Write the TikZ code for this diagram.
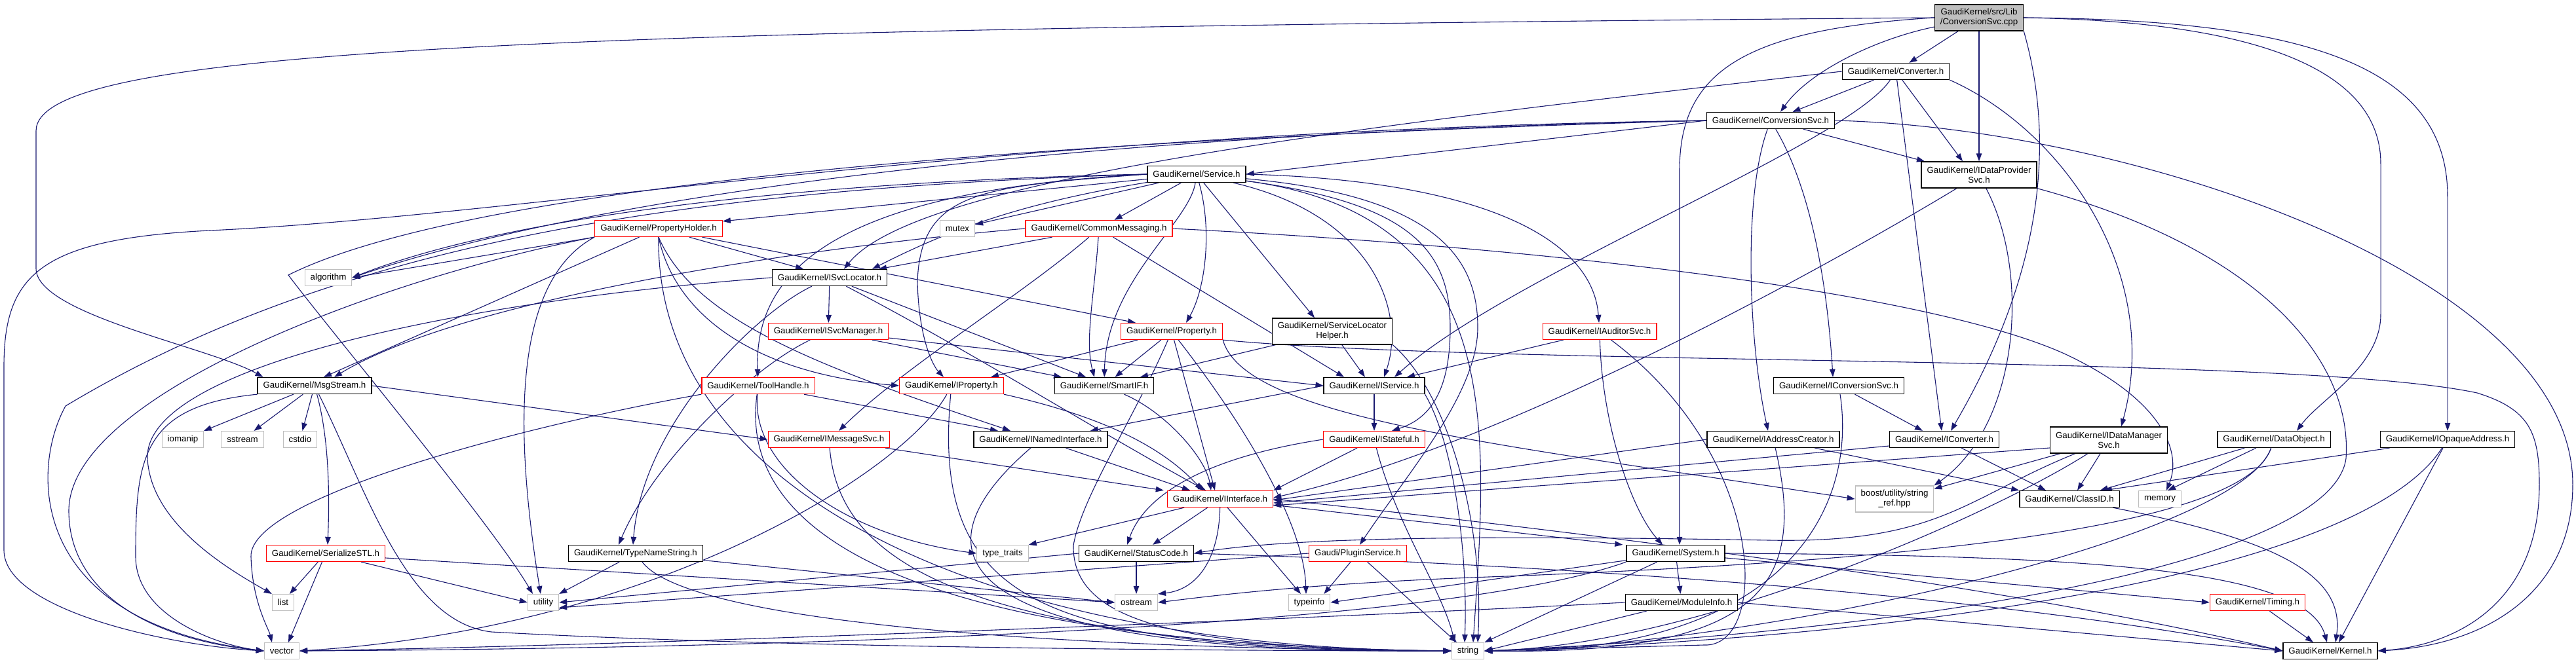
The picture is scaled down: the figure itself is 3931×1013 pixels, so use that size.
\documentclass[tikz,border=0pt]{standalone}
\usepackage{fontspec}
\setmainfont{Liberation Sans}
\usetikzlibrary{arrows.meta,backgrounds}
\definecolor{edgeblue}{HTML}{191970}
\definecolor{sysgray}{HTML}{BFBFBF}

\begin{document}
\begin{tikzpicture}[x=1pt,y=-1pt,
  hdr/.style={rectangle,draw=black,line width=1.3pt,fill=white,font=\fontsize{13.3}{15}\selectfont,inner xsep=8.5pt,inner ysep=0pt,minimum height=25pt,align=center},
  trunc/.style={hdr,draw=red},
  stdh/.style={hdr,draw=sysgray,line width=1.1pt},
  src/.style={hdr,fill=sysgray},
  tall/.style={minimum height=40pt},
  inc/.style={draw=edgeblue,line width=1.1pt,-{Triangle[length=12pt,width=8.5pt]}}]

\useasboundingbox (0,0) rectangle (3931,1013);

\node[src,tall] (cpp) at (3020,27) {GaudiKernel/src/Lib\\/ConversionSvc.cpp};
\node[hdr] (conv) at (2893,109) {GaudiKernel/Converter.h};
\node[hdr] (cnvsvc) at (2702,184) {GaudiKernel/ConversionSvc.h};
\node[hdr,tall] (idp) at (3020,267) {GaudiKernel/IDataProvider\\Svc.h};
\node[hdr] (svc) at (1826,266) {GaudiKernel/Service.h};
\node[trunc] (ph) at (1005,349) {GaudiKernel/PropertyHolder.h};
\node[stdh] (mutex) at (1461,349) {mutex};
\node[trunc] (cm) at (1677,349) {GaudiKernel/CommonMessaging.h};
\node[hdr] (isl) at (1266,424) {GaudiKernel/ISvcLocator.h};
\node[stdh] (algo) at (501,424) {algorithm};
\node[trunc] (ism) at (1264,506) {GaudiKernel/ISvcManager.h};
\node[trunc] (prop) at (1788,506) {GaudiKernel/Property.h};
\node[hdr,tall] (slh) at (2033,506) {GaudiKernel/ServiceLocator\\Helper.h};
\node[trunc] (ias) at (2441,506) {GaudiKernel/IAuditorSvc.h};
\node[hdr] (ms) at (480,589) {GaudiKernel/MsgStream.h};
\node[trunc] (th) at (1157,589) {GaudiKernel/ToolHandle.h};
\node[trunc] (iprop) at (1452,589) {GaudiKernel/IProperty.h};
\node[hdr] (sif) at (1685,589) {GaudiKernel/SmartIF.h};
\node[hdr] (isvc) at (2097,589) {GaudiKernel/IService.h};
\node[hdr] (icsvc) at (2806,589) {GaudiKernel/IConversionSvc.h};
\node[stdh] (iomanip) at (279,671) {iomanip};
\node[stdh] (sstream) at (370,671) {sstream};
\node[stdh] (cstdio) at (458,671) {cstdio};
\node[trunc] (ims) at (1265,671) {GaudiKernel/IMessageSvc.h};
\node[hdr] (ini) at (1588,671) {GaudiKernel/INamedInterface.h};
\node[trunc] (istat) at (2097,671) {GaudiKernel/IStateful.h};
\node[hdr] (iac) at (2706,671) {GaudiKernel/IAddressCreator.h};
\node[hdr] (iconv) at (2967,671) {GaudiKernel/IConverter.h};
\node[hdr,tall] (idm) at (3218,672) {GaudiKernel/IDataManager\\Svc.h};
\node[hdr] (dobj) at (3470,671) {GaudiKernel/DataObject.h};
\node[hdr] (iopa) at (3735,671) {GaudiKernel/IOpaqueAddress.h};
\node[trunc] (iif) at (1862,762) {GaudiKernel/IInterface.h};
\node[stdh,tall] (sref) at (2891,762) {boost/utility/string\\\_ref.hpp};
\node[hdr] (clid) at (3158,762) {GaudiKernel/ClassID.h};
\node[stdh] (memory) at (3296,762) {memory};
\node[trunc] (sstl) at (497,845) {GaudiKernel/SerializeSTL.h};
\node[hdr] (tns) at (970,845) {GaudiKernel/TypeNameString.h};
\node[stdh] (ttraits) at (1530,845) {type\_traits};
\node[hdr] (sc) at (1734,845) {GaudiKernel/StatusCode.h};
\node[trunc] (plug) at (2072,845) {Gaudi/PluginService.h};
\node[hdr] (sys) at (2557,845) {GaudiKernel/System.h};
\node[stdh] (list) at (432,920) {list};
\node[stdh] (utility) at (829,920) {utility};
\node[stdh] (ostream) at (1734,920) {ostream};
\node[stdh] (tinfo) at (1998,920) {typeinfo};
\node[hdr] (modinfo) at (2566,920) {GaudiKernel/ModuleInfo.h};
\node[trunc] (timing) at (3445,920) {GaudiKernel/Timing.h};
\node[stdh] (vector) at (430,994) {vector};
\node[stdh] (string) at (2240,994) {string};
\node[hdr] (kernel) at (3556,994) {GaudiKernel/Kernel.h};

\begin{scope}[on background layer]
% ConversionSvc.cpp
\draw[inc] (cpp.west) .. controls (800,45) and (55,75) .. (55,200) -- (55,410) .. controls (55,480) and (320,530) .. ([xshift=9pt]ms.north west);
\draw[inc] (cpp) -- (conv);
\draw[inc] (cpp) .. controls (2860,60) and (2760,110) .. ([xshift=15pt]cnvsvc.north);
\draw[inc] (cpp) -- (idp);
\draw[inc] (cpp.south east) .. controls (3140,230) and (3110,430) .. ([xshift=10pt]iconv.north);
\draw[inc] (cpp.west) .. controls (2660,45) and (2563,110) .. (2563,260) -- ([xshift=6pt]sys.north);
\draw[inc] (cpp.east) .. controls (3400,32) and (3633,90) .. (3633,250) -- (3633,480) .. controls (3633,560) and (3540,610) .. ([xshift=35pt]dobj.north);
\draw[inc] (cpp.east) .. controls (3520,30) and (3735,100) .. (3735,300) -- (iopa.north);
% Converter.h
\draw[inc] (conv) -- (cnvsvc);
\draw[inc] (conv) .. controls (2820,220) and (2300,420) .. ([xshift=31pt]isvc.north);
\draw[inc] (conv) -- ([xshift=-4pt]iconv.north);
\draw[inc] (conv) -- ([xshift=-25pt]idp.north);
\draw[inc] (conv.south east) .. controls (3150,200) and (3300,420) .. ([xshift=19pt]idm.north);
\draw[inc] (conv.west) .. controls (2100,190) and (1400,270) .. ([xshift=22pt]isl.north);
% ConversionSvc.h
\draw[inc] (cnvsvc.west) -- (svc.east);
\draw[inc] (cnvsvc) .. controls (2660,300) and (2668,520) .. ([xshift=-8pt]iac.north);
\draw[inc] (cnvsvc) .. controls (2770,300) and (2790,460) .. ([xshift=-9pt]icsvc.north);
\draw[inc] (cnvsvc) -- ([xshift=-83pt]idp.north);
\draw[inc] (cnvsvc.east) .. controls (3250,195) and (3926,420) .. (3926,740) .. controls (3926,900) and (3800,985) .. (kernel.east);
\draw[inc] (cnvsvc.west) .. controls (1600,205) and (900,300) .. (algo.east);
\draw[inc] (cnvsvc.west) .. controls (1500,215) and (700,290) .. (440,420) .. controls (500,500) and (750,800) .. ([xshift=-16pt]utility.north);
\draw[inc] (cnvsvc.west) .. controls (1500,200) and (800,330) .. (320,352) .. controls (60,365) and (6,420) .. (6,560) -- (6,840) .. controls (6,930) and (250,985) .. (vector.west);
% Service.h
\draw[inc] (svc) -- ([yshift=-2pt]ph.north east);
\draw[inc] (svc) -- (mutex);
\draw[inc] (svc) -- (cm);
\draw[inc] (svc) .. controls (1560,310) and (1450,350) .. ([xshift=65pt]isl.north);
\draw[inc] (svc.west) .. controls (1300,290) and (1150,400) .. (th);
\draw[inc] (svc.west) .. controls (1500,285) and (1405,290) .. (1400,430) .. controls (1402,520) and (1425,560) .. ([xshift=-12pt]iprop.north);
\draw[inc] (svc) .. controls (1815,340) and (1688,430) .. (sif);
\draw[inc] (svc) .. controls (1850,350) and (1840,440) .. ([xshift=22pt]prop.north);
\draw[inc] (svc) -- ([xshift=-27pt]slh.north);
\draw[inc] (svc) .. controls (2100,330) and (2145,480) .. ([xshift=15pt]isvc.north);
\draw[inc] (svc) .. controls (2150,310) and (2213,380) .. (2213,500) .. controls (2213,600) and (2180,640) .. ([xshift=27pt]istat.north);
\draw[inc] (svc.east) .. controls (2250,275) and (2430,360) .. (ias);
\draw[inc] (svc) .. controls (2200,300) and (2255,400) .. (2255,500) .. controls (2255,600) and (2150,720) .. ([xshift=3pt]plug.north);
\draw[inc] (svc) .. controls (2300,330) and (2270,650) .. ([xshift=8pt]string.north);
\draw[inc] (svc.west) .. controls (1300,275) and (800,320) .. (algo.east);
\draw[inc] (svc.west) .. controls (1000,290) and (500,380) .. (100,620) .. controls (45,720) and (45,950) .. (vector.west);
% PropertyHolder.h
\draw[inc] (ph) -- ([xshift=-40pt]isl.north);
\draw[inc] (ph) -- ([xshift=-55pt]prop.north);
\draw[inc] (ph.south west) -- (algo.east);
\draw[inc] (ph.south west) .. controls (600,420) and (105,600) .. (105,780) .. controls (105,900) and (220,975) .. (vector.west);
\draw[inc] (ph) -- ([xshift=14pt]ms.north);
\draw[inc] (ph.south) .. controls (1030,480) and (1150,570) .. (iprop.west);
\draw[inc] (ph.south) .. controls (1060,490) and (1250,560) .. ([xshift=-46pt]ini.north);
\draw[inc] (ph.south west) .. controls (800,420) and (775,600) .. ([xshift=-4pt]utility.north);
\draw[inc] (ph.south) .. controls (1000,750) and (1500,990) .. (string.west);
% CommonMessaging.h
\draw[inc] (cm) -- ([xshift=75pt]isl.north);
\draw[inc] (cm.west) .. controls (1200,380) and (700,460) .. ([xshift=30pt]ms.north);
\draw[inc] (cm) .. controls (1560,450) and (1380,560) .. ([xshift=15pt]ims.north);
\draw[inc] (cm) .. controls (1670,450) and (1655,520) .. ([xshift=-15pt]sif.north);
\draw[inc] (cm) -- ([xshift=-46pt]isvc.north);
\draw[inc] (cm.east) .. controls (2400,380) and (2950,450) .. (3150,540) .. controls (3300,610) and (3330,690) .. ([xshift=10pt]memory.north);
% ISvcLocator.h
\draw[inc] (isl) -- (ism);
\draw[inc] (isl) .. controls (1470,530) and (1660,650) .. ([xshift=-22pt]iif.north);
\draw[inc] (isl) -- ([xshift=-28pt]sif.north);
\draw[inc] (isl) .. controls (1150,480) and (980,650) .. ([xshift=-4pt]tns.north);
\draw[inc] (isl.west) .. controls (700,460) and (220,560) .. (225,700) .. controls (230,800) and (350,870) .. (list.north west);
% ISvcManager.h
\draw[inc] (ism) -- (isvc.west);
\draw[inc] (ism) -- ([xshift=-65pt]sif.north);
\draw[inc] (ism) .. controls (1150,560) and (1000,700) .. ([xshift=-26pt]tns.north);
% Property.h
\draw[inc] (prop) -- ([xshift=-20pt]iprop.north east);
\draw[inc] (prop) -- ([xshift=-60pt]sif.north east);
\draw[inc] (prop) .. controls (1730,640) and (1650,760) .. (1638,833) .. controls (1636,950) and (1800,990) .. (string.west);
\draw[inc] (prop) .. controls (1900,650) and (1990,800) .. ([xshift=-5pt]tinfo.north);
\draw[inc] (prop.south east) .. controls (1900,640) and (2300,680) .. (sref.west);
\draw[inc] (prop.south east) .. controls (2300,560) and (3500,540) .. (3780,600) .. controls (3860,625) and (3875,660) .. (3875,740) .. controls (3875,920) and (3750,985) .. (kernel.east);
\draw[inc] (prop) -- ([xshift=-8pt]iif.north);
% ServiceLocatorHelper.h
\draw[inc] (slh) -- ([xshift=-14pt]isvc.north);
\draw[inc] (slh) -- ([xshift=55pt]sif.north);
\draw[inc] (slh.south east) .. controls (2210,600) and (2265,800) .. ([xshift=15pt]string.north);
% IAuditorSvc.h
\draw[inc] (ias) -- ([xshift=50pt]isvc.north);
\draw[inc] (ias) .. controls (2445,650) and (2490,780) .. ([xshift=-20pt]sys.north);
\draw[inc] (ias) .. controls (2700,700) and (2700,990) .. (2600,985) -- (string.east);
% MsgStream.h
\draw[inc] (ms) -- (iomanip);
\draw[inc] (ms) -- (sstream);
\draw[inc] (ms) -- (cstdio);
\draw[inc] (ms) .. controls (505,680) and (502,780) .. ([xshift=3pt]sstl.north);
\draw[inc] (ms.east) -- (ims.west);
\draw[inc] (ms.south west) .. controls (215,620) and (207,700) .. (207,850) .. controls (207,940) and (330,985) .. (vector.west);
\draw[inc] (ms) .. controls (560,750) and (620,950) .. (750,965) .. controls (1200,990) and (1900,994) .. (string.west);
% SerializeSTL.h
\draw[inc] (sstl) -- ([xshift=10pt]list.north);
\draw[inc] (sstl) -- ([xshift=10pt]vector.north);
\draw[inc] (sstl) -- (utility.west);
\draw[inc] ([yshift=-7pt]sstl.east) -- (ostream.west);
% TypeNameString.h
\draw[inc] (tns) -- (utility.north east);
\draw[inc] (tns) .. controls (1050,950) and (1600,990) .. (string.west);
\draw[inc] (tns) -- (ostream.west);
% ToolHandle.h
\draw[inc] (th) -- ([xshift=-65pt]ini.north);
\draw[inc] (th) .. controls (1145,720) and (1300,820) .. (ttraits.west);
\draw[inc] (th) .. controls (1125,820) and (1400,985) .. (string.west);
\draw[inc] (th.south west) .. controls (800,650) and (380,760) .. (383,850) .. controls (385,920) and (410,960) .. ([xshift=-15pt]vector.north);
% IProperty.h
\draw[inc] (iprop.south east) .. controls (1700,640) and (1780,690) .. ([xshift=-27pt]iif.north);
\draw[inc] (iprop) .. controls (1420,930) and (1600,990) .. (string.west);
\draw[inc] (iprop) .. controls (1380,720) and (1000,960) .. (vector.east);
% SmartIF.h
\draw[inc] (sif) .. controls (1780,630) and (1840,700) .. ([xshift=-14pt]iif.north);
% IService.h
\draw[inc] (isvc) -- (istat);
\draw[inc] (isvc.west) -- ([xshift=-27pt]ini.north east);
\draw[inc] (isvc.south east) .. controls (2220,680) and (2240,850) .. ([xshift=-5pt]string.north);
% IMessageSvc.h
\draw[inc] (ims) -- ([xshift=-5pt]iif.north west);
\draw[inc] (ims) .. controls (1280,850) and (1450,985) .. (string.west);
% INamedInterface.h
\draw[inc] (ini) -- ([xshift=-46pt]iif.north);
\draw[inc] (ini) .. controls (1380,850) and (1450,1000) .. (string.west);
% IStateful.h
\draw[inc] (istat) -- (iif.north east);
\draw[inc] (istat) .. controls (2130,800) and (2200,900) .. ([xshift=-20pt]string.north);
\draw[inc] (istat.west) .. controls (1830,700) and (1745,760) .. ([xshift=-14pt]sc.north);
% IInterface.h
\draw[inc] (iif) -- (ttraits.north east);
\draw[inc] (iif) -- ([xshift=25pt]sc.north);
\draw[inc] (iif) .. controls (1860,850) and (1830,900) .. (ostream.north east);
\draw[inc] (iif) -- ([xshift=-13pt]tinfo.north);
\draw[inc] (iif) -- ([xshift=-5pt]sys.north west);
\draw[inc] (iif.east) .. controls (2300,800) and (3000,880) .. (kernel.west);
% StatusCode.h
\draw[inc] (sc) -- (ostream);
\draw[inc] (sc.west) -- (utility.east);
\draw[inc] (sc.east) .. controls (2300,860) and (3000,900) .. (kernel.west);
% PluginService.h
\draw[inc] (plug) -- ([xshift=-10pt]tinfo.north east);
\draw[inc] (plug) -- ([xshift=-17pt]string.north);
\draw[inc] (plug.west) -- ([yshift=-8pt]utility.east);
% System.h
\draw[inc] (sys) -- (modinfo);
\draw[inc] (sys) -- (tinfo.east);
\draw[inc] (sys) -- (string.north east);
\draw[inc] (sys.south west) .. controls (2200,960) and (1200,990) .. (vector.east);
\draw[inc] (sys.east) .. controls (3200,848) and (3520,870) .. ([xshift=-5pt]kernel.north);
\draw[inc] (sys) -- (timing.west);
% ModuleInfo.h
\draw[inc] (modinfo) -- (string.east);
\draw[inc] (modinfo.west) .. controls (2000,945) and (1000,985) .. (vector.east);
\draw[inc] (modinfo.east) -- (kernel.west);
% IConversionSvc.h
\draw[inc] (icsvc) -- ([xshift=-33pt]iconv.north);
\draw[inc] (icsvc) .. controls (2835,780) and (2720,1000) .. (string.east);
% IAddressCreator.h
\draw[inc] (iac.west) -- ([yshift=-2pt]iif.east);
\draw[inc] (iac) .. controls (2760,900) and (2680,1000) .. (string.east);
\draw[inc] (iac) -- (clid.north west);
% IConverter.h
\draw[inc] ([yshift=-10pt]iconv.west) -- ([yshift=-6pt]iif.east);
\draw[inc] (iconv) -- ([xshift=-36pt]clid.north);
% IDataManagerSvc.h
\draw[inc] ([yshift=-12pt]idm.west) -- ([yshift=-10pt]iif.east);
\draw[inc] (idm) -- ([yshift=-5pt]sref.north east);
\draw[inc] (idm) -- ([xshift=12pt]clid.north);
\draw[inc] (idm) .. controls (3050,780) and (2600,985) .. (string.east);
\draw[inc] (idm) .. controls (3000,760) and (2960,830) .. (2700,825) .. controls (2400,820) and (2000,815) .. (sc.east);
% IDataProviderSvc.h
\draw[inc] (idp) .. controls (2800,400) and (2300,680) .. ([yshift=2pt]iif.east);
\draw[inc] (idp) .. controls (3100,420) and (3080,650) .. (sref.north east);
\draw[inc] (idp.south east) .. controls (3450,380) and (3590,550) .. (3580,700) .. controls (3560,850) and (3000,960) .. (string.east);
% DataObject.h
\draw[inc] (dobj) -- ([xshift=-30pt]clid.north east);
\draw[inc] (dobj) -- ([xshift=12pt]memory.north);
\draw[inc] (dobj) .. controls (3420,820) and (2800,860) .. (2300,880) .. controls (2000,890) and (1850,910) .. (ostream.east);
\draw[inc] (dobj) .. controls (3420,820) and (2700,985) .. (string.east);
% IOpaqueAddress.h
\draw[inc] (iopa) -- ([xshift=-24pt]clid.north east);
\draw[inc] (iopa) -- ([xshift=13pt]kernel.north);
\draw[inc] (iopa) .. controls (3600,880) and (2900,975) .. (string.east);
% ClassID.h, Timing.h
\draw[inc] (clid) .. controls (3450,820) and (3580,870) .. ([xshift=8pt]kernel.north);
\draw[inc] (timing) -- ([xshift=-26pt]kernel.north);
\end{scope}
\end{tikzpicture}
\end{document}
